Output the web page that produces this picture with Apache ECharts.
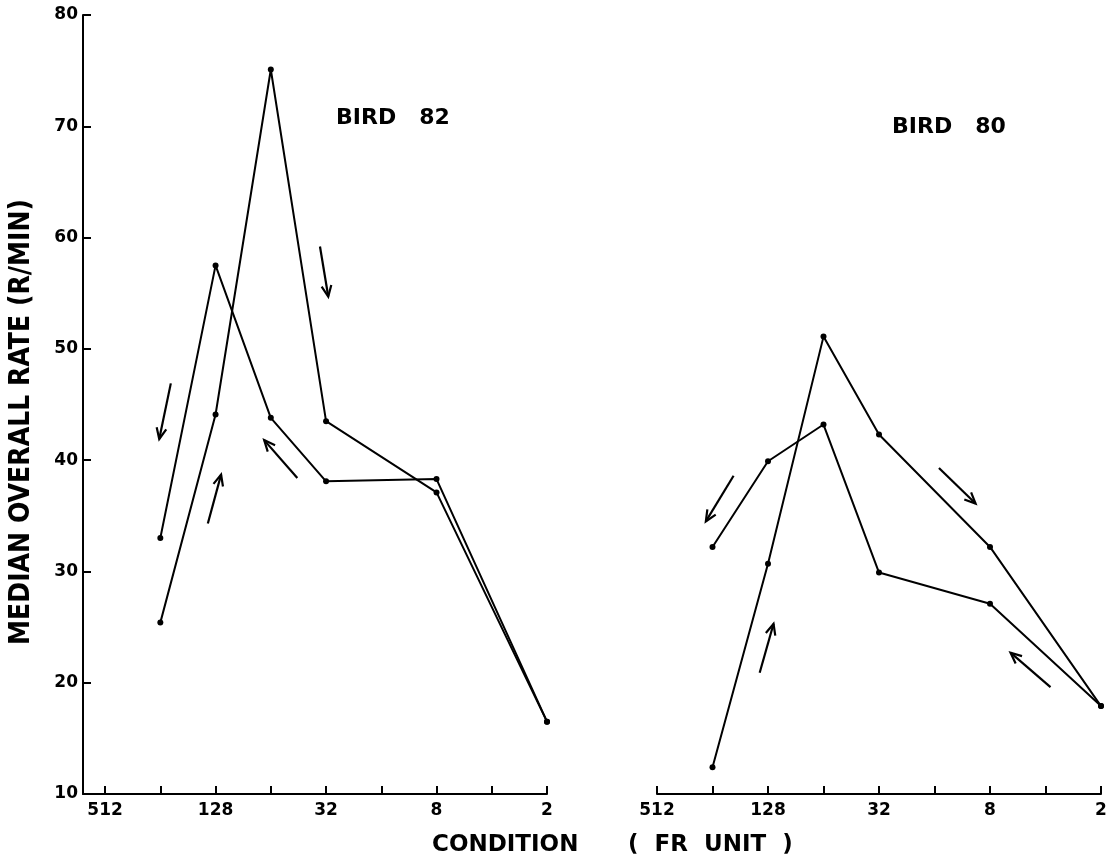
<!DOCTYPE html>
<html>
<head>
<meta charset="utf-8">
<script src="https://cdn.jsdelivr.net/npm/echarts@6/dist/echarts.min.js"></script>
<style>
  html, body { margin: 0; padding: 0; background: #fff; }
  #chart { width: 1118px; height: 863px; }
</style>
</head>
<body>
<div id="chart"></div>
<script>
// FR unit conditions, left to right on both panels
const frUnits = [512, 256, 128, 64, 32, 16, 8, 4, 2];
const frLabelled = [512, 128, 32, 8, 2];
const yTicks = [10, 20, 30, 40, 50, 60, 70, 80];

// conditions that were run (same for both birds)
const runConditions = [256, 128, 64, 32, 8, 2];

// Bird 82
const bird82First = [33.0, 57.5, 43.8, 38.1, 38.3, 16.5];
const bird82Second = [25.4, 44.1, 75.1, 43.5, 37.1, 16.5];

// Bird 80
const bird80First = [32.2, 39.9, 43.2, 29.9, 27.1, 17.9];
const bird80Second = [12.4, 30.7, 51.1, 42.3, 32.2, 17.9];

// direction arrows: [fromIndex, fromRate, toIndex, toRate] in axis units
const bird82Arrows = [
    [1.19, 46.9, 0.98, 41.9],
    [1.86, 34.3, 2.10, 38.7],
    [3.48, 38.4, 2.88, 41.8],
    [3.89, 59.2, 4.04, 54.7]
];
const bird80Arrows = [
    [1.38, 38.6, 0.88, 34.5],
    [1.85, 20.9, 2.10, 25.3],
    [5.08, 39.3, 5.74, 36.1],
    [7.09, 19.6, 6.37, 22.7]
];

const FONT = "DejaVu Sans";
const FONT_NARROW = "DejaVu Sans Condensed";

const toPoints = (values) =>
    runConditions.map((fr, i) => [frUnits.indexOf(fr), values[i]]);

function lineSeries(values, axisIndex) {
    return {
        type: "line",
        xAxisIndex: axisIndex,
        yAxisIndex: axisIndex,
        data: toPoints(values),
        symbol: "circle",
        symbolSize: 6,
        showSymbol: true,
        itemStyle: { color: "#000" },
        lineStyle: { color: "#000", width: 2 },
        silent: true,
        z: 3
    };
}

function arrowSeries(arrows, axisIndex) {
    return {
        type: "custom",
        xAxisIndex: axisIndex,
        yAxisIndex: axisIndex,
        data: arrows,
        encode: { x: [0, 2], y: [1, 3] },
        silent: true,
        renderItem: (params, api) => {
            const p1 = api.coord([api.value(0), api.value(1)]);
            const p2 = api.coord([api.value(2), api.value(3)]);
            const ang = Math.atan2(p2[1] - p1[1], p2[0] - p1[0]);
            const h = 12, spread = 0.42;
            const a = [p2[0] - h * Math.cos(ang - spread), p2[1] - h * Math.sin(ang - spread)];
            const b = [p2[0] - h * Math.cos(ang + spread), p2[1] - h * Math.sin(ang + spread)];
            return {
                type: "group",
                children: [
                    {
                        type: "line",
                        shape: { x1: p1[0], y1: p1[1], x2: p2[0], y2: p2[1] },
                        style: { stroke: "#000", lineWidth: 2.2 }
                    },
                    {
                        type: "polyline",
                        shape: { points: [a, p2, b] },
                        style: { stroke: "#000", fill: null, lineWidth: 2.2 }
                    }
                ]
            };
        }
    };
}

function xAxis(gridIndex, min) {
    return {
        type: "value",
        gridIndex: gridIndex,
        min: min,
        max: frUnits.length - 1,
        splitLine: { show: false },
        axisLine: { show: true, onZero: false, lineStyle: { color: "#000", width: 2 } },
        axisTick: {
            show: true,
            inside: true,
            length: 8,
            customValues: frUnits.map((fr, i) => i),
            lineStyle: { color: "#000", width: 2 }
        },
        axisLabel: {
            show: true,
            customValues: frLabelled.map((fr) => frUnits.indexOf(fr)),
            formatter: (v) => String(frUnits[Math.round(v)]),
            color: "#000",
            fontFamily: FONT,
            fontWeight: "bold",
            fontSize: 17,
            margin: 8
        }
    };
}

const textStyle = (size, family) => ({
    fontFamily: family || FONT,
    fontWeight: "bold",
    fontSize: size,
    fill: "#000"
});

const chart = echarts.init(document.getElementById("chart"));

const option = {
    backgroundColor: "#fff",
    animation: false,
    graphic: [
        { type: "text", left: 336, top: 107, style: Object.assign({ text: "BIRD   82" }, textStyle(22)) },
        { type: "text", left: 892, top: 116, style: Object.assign({ text: "BIRD   80" }, textStyle(22)) },
        { type: "text", left: 432, top: 834, style: Object.assign({ text: "CONDITION" }, textStyle(23)) },
        { type: "text", left: 628, top: 834, style: Object.assign({ text: "(  FR  UNIT  )" }, textStyle(23)) },
        {
            type: "text",
            x: 22,
            y: 422,
            rotation: Math.PI / 2,
            style: Object.assign(
                { text: "MEDIAN OVERALL RATE (R/MIN)", align: "center", verticalAlign: "middle" },
                textStyle(28, FONT_NARROW)
            )
        }
    ],
    grid: [
        { left: 83, top: 15, width: 464, height: 779 },
        { left: 657, top: 15, width: 444, height: 779 }
    ],
    xAxis: [xAxis(0, -0.4), xAxis(1, 0)],
    yAxis: [
        {
            type: "value",
            gridIndex: 0,
            min: yTicks[0],
            max: yTicks[yTicks.length - 1],
            interval: 10,
            splitLine: { show: false },
            axisLine: { show: true, onZero: false, lineStyle: { color: "#000", width: 2 } },
            axisTick: { show: true, inside: true, length: 8, lineStyle: { color: "#000", width: 2 } },
            axisLabel: {
                color: "#000",
                fontFamily: FONT,
                fontWeight: "bold",
                fontSize: 17,
                margin: 5
            }
        },
        {
            type: "value",
            gridIndex: 1,
            min: yTicks[0],
            max: yTicks[yTicks.length - 1],
            show: false
        }
    ],
    series: [
        lineSeries(bird82First, 0),
        lineSeries(bird82Second, 0),
        lineSeries(bird80First, 1),
        lineSeries(bird80Second, 1),
        arrowSeries(bird82Arrows, 0),
        arrowSeries(bird80Arrows, 1)
    ]
};

chart.setOption(option);
</script>
</body>
</html>
